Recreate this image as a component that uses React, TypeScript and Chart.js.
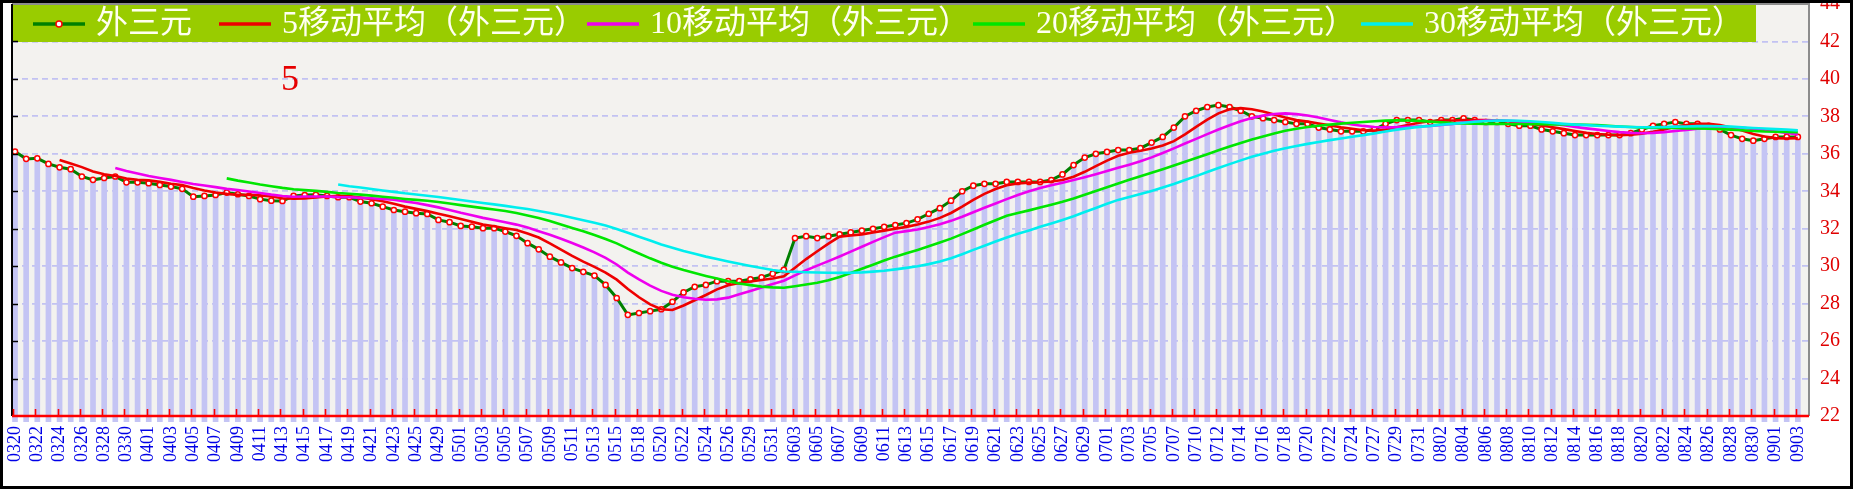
import React, { useEffect, useRef } from 'react';
import { Chart, registerables } from 'chart.js';

Chart.register(...registerables);

const dates = [
  '0320','0321','0322','0323','0324','0325','0326','0327','0328','0329',
  '0330','0331','0401','0402','0403','0404','0405','0406','0407','0408',
  '0409','0410','0411','0412','0413','0414','0415','0416','0417','0418',
  '0419','0420','0421','0422','0423','0424','0425','0427','0429','0430',
  '0501','0502','0503','0504','0505','0506','0507','0508','0509','0510',
  '0511','0512','0513','0514','0515','0516','0518','0519','0520','0521',
  '0522','0523','0524','0525','0526','0527','0529','0530','0531','0601',
  '0603','0604','0605','0606','0607','0608','0609','0610','0611','0612',
  '0613','0614','0615','0616','0617','0618','0619','0620','0621','0622',
  '0623','0624','0625','0626','0627','0628','0629','0630','0701','0702',
  '0703','0704','0705','0706','0707','0708','0710','0711','0712','0713',
  '0714','0715','0716','0717','0718','0719','0720','0721','0722','0723',
  '0724','0725','0727','0728','0729','0730','0731','0801','0802','0803',
  '0804','0805','0806','0807','0808','0809','0810','0811','0812','0813',
  '0814','0815','0816','0817','0818','0819','0820','0821','0822','0823',
  '0824','0825','0826','0827','0828','0829','0830','0831','0901','0902',
  '0903',
];

// 外三元
const values = [
  36.12,35.73,35.76,35.46,35.28,35.18,34.79,34.61,34.71,34.79,
  34.48,34.48,34.43,34.34,34.25,34.13,33.71,33.75,33.80,33.93,
  33.84,33.75,33.58,33.50,33.48,33.75,33.80,33.81,33.75,33.68,
  33.68,33.45,33.36,33.18,33.00,32.91,32.83,32.79,32.47,32.35,
  32.15,32.11,32.03,32.03,31.85,31.62,31.23,30.90,30.51,30.20,
  29.90,29.70,29.50,29.00,28.30,27.40,27.50,27.60,27.70,28.10,
  28.60,28.90,29.00,29.20,29.20,29.20,29.30,29.40,29.60,29.80,
  31.50,31.60,31.50,31.60,31.70,31.80,31.90,32.00,32.10,32.20,
  32.30,32.50,32.80,33.10,33.50,34.00,34.30,34.40,34.40,34.50,
  34.50,34.50,34.50,34.60,34.90,35.40,35.80,36.00,36.10,36.20,
  36.20,36.30,36.60,36.90,37.40,38.00,38.30,38.50,38.60,38.50,
  38.30,38.00,37.90,37.80,37.70,37.60,37.60,37.40,37.30,37.20,
  37.20,37.20,37.30,37.60,37.80,37.80,37.80,37.70,37.80,37.80,
  37.90,37.80,37.70,37.70,37.60,37.50,37.50,37.30,37.20,37.10,
  37.00,37.00,37.00,37.00,37.00,37.10,37.30,37.50,37.60,37.70,
  37.60,37.60,37.50,37.30,37.00,36.80,36.70,36.80,36.90,36.90,
  36.90,
];

// 5移动平均（外三元）
const ma5 = [
  null,null,null,null,35.67,35.48,35.29,35.06,34.91,34.82,
  34.68,34.61,34.58,34.50,34.40,34.33,34.17,34.04,33.93,33.86,
  33.81,33.81,33.78,33.72,33.63,33.61,33.62,33.67,33.72,33.76,
  33.74,33.67,33.58,33.47,33.33,33.18,33.06,32.94,32.80,32.67,
  32.52,32.37,32.22,32.13,32.03,31.93,31.75,31.53,31.22,30.89,
  30.55,30.24,29.96,29.66,29.28,28.78,28.34,27.96,27.70,27.66,
  27.90,28.18,28.46,28.76,28.98,29.10,29.18,29.26,29.34,29.46,
  29.92,30.38,30.80,31.20,31.58,31.64,31.70,31.80,31.90,32.00,
  32.10,32.22,32.38,32.58,32.84,33.18,33.54,33.86,34.12,34.32,
  34.42,34.46,34.48,34.52,34.60,34.78,35.04,35.34,35.64,35.90,
  36.06,36.16,36.28,36.44,36.68,37.04,37.44,37.82,38.16,38.38,
  38.44,38.38,38.26,38.10,37.94,37.80,37.72,37.62,37.52,37.42,
  37.34,37.26,37.24,37.30,37.42,37.54,37.66,37.74,37.78,37.78,
  37.80,37.80,37.80,37.78,37.74,37.66,37.60,37.52,37.42,37.32,
  37.22,37.12,37.06,37.02,37.00,37.02,37.08,37.18,37.30,37.44,
  37.54,37.60,37.60,37.54,37.40,37.24,37.06,36.92,36.84,36.82,
  36.84,
];

// 10移动平均（外三元）
const ma10 = [
  null,null,null,null,null,null,null,null,null,35.24,
  35.08,34.95,34.82,34.71,34.61,34.50,34.39,34.31,34.22,34.13,
  34.07,33.99,33.91,33.82,33.75,33.71,33.72,33.72,33.72,33.69,
  33.68,33.65,33.63,33.59,33.55,33.46,33.37,33.26,33.14,33.00,
  32.85,32.72,32.58,32.47,32.35,32.22,32.06,31.87,31.68,31.46,
  31.24,31.00,30.74,30.44,30.09,29.66,29.29,28.96,28.68,28.47,
  28.34,28.26,28.21,28.23,28.32,28.50,28.68,28.86,29.05,29.22,
  29.51,29.78,30.03,30.27,30.52,30.78,31.04,31.30,31.55,31.79,
  31.87,31.96,32.09,32.24,32.42,32.64,32.88,33.12,33.35,33.58,
  33.80,34.00,34.17,34.32,34.46,34.60,34.75,34.91,35.08,35.25,
  35.42,35.60,35.81,36.04,36.29,36.55,36.80,37.05,37.30,37.53,
  37.74,37.91,38.04,38.13,38.16,38.12,38.05,37.94,37.81,37.68,
  37.57,37.49,37.43,37.41,37.42,37.44,37.46,37.49,37.54,37.60,
  37.67,37.73,37.77,37.78,37.76,37.73,37.70,37.66,37.60,37.53,
  37.44,37.36,37.29,37.22,37.16,37.12,37.10,37.12,37.16,37.22,
  37.28,37.34,37.39,37.42,37.42,37.39,37.33,37.26,37.19,37.11,
  37.04,
];

// 20移动平均（外三元）
const ma20 = [
  null,null,null,null,null,null,null,null,null,null,
  null,null,null,null,null,null,null,null,null,34.69,
  34.57,34.47,34.36,34.27,34.18,34.11,34.06,34.02,33.97,33.91,
  33.87,33.82,33.77,33.71,33.65,33.59,33.54,33.49,33.43,33.35,
  33.26,33.18,33.10,33.03,32.95,32.84,32.71,32.57,32.41,32.23,
  32.04,31.86,31.66,31.45,31.22,30.94,30.68,30.42,30.18,29.97,
  29.79,29.63,29.48,29.34,29.20,29.08,28.99,28.91,28.87,28.85,
  28.93,29.02,29.12,29.25,29.42,29.64,29.86,30.08,30.30,30.51,
  30.69,30.87,31.06,31.26,31.47,31.71,31.96,32.21,32.45,32.69,
  32.84,32.98,33.13,33.28,33.44,33.62,33.82,34.02,34.22,34.42,
  34.61,34.80,34.99,35.18,35.38,35.58,35.78,35.98,36.19,36.39,
  36.58,36.76,36.93,37.09,37.23,37.34,37.43,37.50,37.56,37.61,
  37.66,37.70,37.74,37.77,37.79,37.78,37.76,37.72,37.68,37.64,
  37.62,37.61,37.60,37.60,37.59,37.59,37.58,37.58,37.57,37.57,
  37.56,37.55,37.53,37.50,37.46,37.43,37.40,37.39,37.38,37.38,
  37.36,37.35,37.34,37.32,37.29,37.26,37.22,37.19,37.18,37.17,
  37.16,
];

// 30移动平均（外三元）
const ma30 = [
  null,null,null,null,null,null,null,null,null,null,
  null,null,null,null,null,null,null,null,null,null,
  null,null,null,null,null,null,null,null,null,34.36,
  34.27,34.20,34.12,34.04,33.97,33.89,33.83,33.76,33.69,33.61,
  33.53,33.45,33.37,33.30,33.22,33.13,33.05,32.95,32.84,32.72,
  32.59,32.45,32.32,32.17,31.99,31.78,31.57,31.37,31.16,30.98,
  30.81,30.66,30.51,30.38,30.25,30.13,30.01,29.90,29.80,29.72,
  29.70,29.68,29.66,29.65,29.64,29.65,29.67,29.71,29.76,29.83,
  29.91,30.00,30.11,30.25,30.42,30.64,30.87,31.09,31.32,31.53,
  31.73,31.91,32.10,32.28,32.47,32.67,32.89,33.11,33.33,33.54,
  33.70,33.85,34.02,34.20,34.39,34.60,34.81,35.03,35.24,35.45,
  35.65,35.84,36.01,36.16,36.30,36.42,36.53,36.63,36.73,36.82,
  36.91,37.00,37.09,37.19,37.29,37.37,37.44,37.49,37.55,37.60,
  37.66,37.71,37.75,37.77,37.78,37.76,37.74,37.70,37.65,37.60,
  37.56,37.53,37.50,37.47,37.45,37.43,37.42,37.42,37.43,37.45,
  37.46,37.48,37.48,37.47,37.45,37.41,37.38,37.35,37.32,37.29,
  37.25,
];

const seriesNames = ['外三元', '5移动平均（外三元）', '10移动平均（外三元）', '20移动平均（外三元）', '30移动平均（外三元）'];
const seriesColors = ['#008000', '#EE0000', '#EE00EE', '#00E600', '#00EEEE'];
const annotationText = '5';

const SERIF = "'Liberation Serif', 'DejaVu Serif', serif";
const LEGEND_FONT = "32px 'Liberation Serif', 'Noto Sans CJK SC', sans-serif";

function toPoints(arr: (number | null)[]) {
  const out: { x: number; y: number }[] = [];
  arr.forEach((v, i) => {
    if (v !== null) out.push({ x: i, y: v });
  });
  return out;
}

const decor = {
  id: 'decor',
  beforeDraw(chart: any) {
    const { ctx, chartArea: a, width, height } = chart;
    ctx.save();
    ctx.fillStyle = '#ffffff';
    ctx.fillRect(0, 0, width, height);
    ctx.fillStyle = '#F3F2EF';
    ctx.fillRect(a.left, a.top, a.right - a.left, a.bottom - a.top);
    ctx.restore();
  },
  beforeDatasetsDraw(chart: any) {
    const { ctx } = chart;
    ctx.save();
    ctx.fillStyle = '#99CC00';
    ctx.fillRect(13, 5, 1743, 37);
    const starts = [33, 219, 587, 973, 1361];
    ctx.font = LEGEND_FONT;
    ctx.textBaseline = 'middle';
    ctx.textAlign = 'left';
    seriesNames.forEach((name, i) => {
      const x0 = starts[i];
      ctx.strokeStyle = seriesColors[i];
      ctx.lineWidth = 3.5;
      ctx.beginPath();
      ctx.moveTo(x0, 24);
      ctx.lineTo(x0 + 52, 24);
      ctx.stroke();
      if (i === 0) {
        ctx.beginPath();
        ctx.arc(x0 + 26, 24, 3, 0, Math.PI * 2);
        ctx.fillStyle = '#ffffff';
        ctx.fill();
        ctx.lineWidth = 1.5;
        ctx.strokeStyle = '#FF0000';
        ctx.stroke();
      }
      ctx.fillStyle = '#FFFFF0';
      ctx.fillText(name, x0 + 63, 25);
    });
    ctx.fillStyle = '#E60000';
    ctx.font = `36px ${SERIF}`;
    ctx.textAlign = 'center';
    ctx.fillText(annotationText, 290, 81);
    ctx.restore();
  },
  afterDatasetsDraw(chart: any) {
    const { ctx, chartArea: a, scales } = chart;
    const y = scales.y;
    const x = scales.x;
    ctx.save();
    ctx.strokeStyle = '#8C8C8C';
    ctx.lineWidth = 2;
    ctx.beginPath();
    ctx.moveTo(a.left, a.top);
    ctx.lineTo(a.right, a.top);
    ctx.lineTo(a.right, a.bottom);
    ctx.stroke();
    ctx.strokeStyle = '#000000';
    ctx.lineWidth = 2;
    ctx.beginPath();
    ctx.moveTo(a.left, a.top);
    ctx.lineTo(a.left, a.bottom);
    ctx.stroke();
    ctx.lineWidth = 1.5;
    for (let v = 24; v <= 42; v += 2) {
      const py = Math.round(y.getPixelForValue(v)) + 0.5;
      ctx.beginPath();
      ctx.moveTo(a.left, py);
      ctx.lineTo(a.left + 6, py);
      ctx.stroke();
    }
    ctx.strokeStyle = '#FF0000';
    ctx.lineWidth = 2.5;
    ctx.beginPath();
    ctx.moveTo(a.left, a.bottom);
    ctx.lineTo(a.right, a.bottom);
    ctx.stroke();
    ctx.lineWidth = 1.6;
    for (let i = 0; i < dates.length; i += 2) {
      const px = Math.round(x.getPixelForValue(i)) - 1.5;
      ctx.beginPath();
      ctx.moveTo(px, a.bottom);
      ctx.lineTo(px, a.bottom - 7);
      ctx.stroke();
    }
    ctx.restore();
  },
  afterDraw(chart: any) {
    const { ctx, width, height } = chart;
    ctx.save();
    ctx.strokeStyle = '#000000';
    ctx.lineWidth = 3;
    ctx.strokeRect(1.5, 1.5, width - 3, height - 3);
    ctx.restore();
  },
};

export default function App() {
  const ref = useRef<HTMLCanvasElement | null>(null);
  useEffect(() => {
    if (!ref.current) return;
    const pts = toPoints(values);
    const maSeries = [ma5, ma10, ma20, ma30];
    const lineSets = maSeries
      .map((arr, k) => ({
        type: 'line' as const,
        label: seriesNames[k + 1],
        data: toPoints(arr),
        borderColor: seriesColors[k + 1],
        borderWidth: 2.6,
        pointRadius: 0,
        fill: false,
        order: 4 - k,
        clip: 4,
      }))
      .reverse();
    const chart = new Chart(ref.current, {
      type: 'bar',
      data: {
        datasets: [
          ...lineSets,
          {
            type: 'line' as const,
            label: seriesNames[0],
            data: pts,
            borderColor: seriesColors[0],
            borderWidth: 3,
            pointRadius: 2.6,
            pointBorderWidth: 1.5,
            pointBorderColor: '#FF0000',
            pointBackgroundColor: '#FFFFFF',
            fill: false,
            order: 6,
            clip: 6,
          },
          {
            type: 'bar' as const,
            label: 'bars',
            data: pts,
            backgroundColor: '#C4C4F4',
            barThickness: 5,
            order: 10,
            clip: 6,
          },
        ],
      },
      options: {
        animation: false,
        responsive: false,
        devicePixelRatio: 1,
        events: [],
        layout: { autoPadding: false, padding: { left: 12, top: 4, right: 0, bottom: 0 } },
        plugins: { legend: { display: false }, tooltip: { enabled: false }, title: { display: false } },
        scales: {
          x: {
            type: 'linear',
            position: 'bottom',
            min: -0.27,
            max: 161,
            offset: false,
            grid: { display: false, drawTicks: false, offset: false },
            border: { display: false },
            ticks: {
              stepSize: 2,
              autoSkip: false,
              includeBounds: false,
              minRotation: 90,
              maxRotation: 90,
              padding: 10,
              color: '#0000E6',
              font: { family: SERIF, size: 18 },
              callback: (v: any) => {
                const i = Number(v);
                return Number.isInteger(i) && i % 2 === 0 && i < dates.length ? dates[i] : '';
              },
            },
            afterFit: (s: any) => {
              s.height = 73;
              s.paddingLeft = 0;
              s.paddingRight = 0;
              s.paddingTop = 0;
              s.paddingBottom = 0;
            },
          },
          y: {
            type: 'linear',
            position: 'right',
            min: 22,
            max: 44,
            beginAtZero: false,
            grid: { color: '#C2C2F2', lineWidth: 1.8, drawTicks: false },
            border: { display: false, dash: [6, 4] },
            ticks: {
              stepSize: 2,
              padding: 11,
              color: '#E00000',
              font: { family: SERIF, size: 20 },
            },
            afterFit: (s: any) => {
              s.width = 44;
              s.paddingTop = 0;
              s.paddingBottom = 0;
              s.paddingLeft = 0;
              s.paddingRight = 0;
            },
          },
        },
      },
      plugins: [decor],
    } as any);
    return () => chart.destroy();
  }, []);
  return (
    <div style={{ position: 'absolute', left: 0, top: 0, width: 1853, height: 489, background: '#fff' }}>
      <canvas ref={ref} width={1853} height={489} style={{ display: 'block', width: 1853, height: 489 }} />
    </div>
  );
}
